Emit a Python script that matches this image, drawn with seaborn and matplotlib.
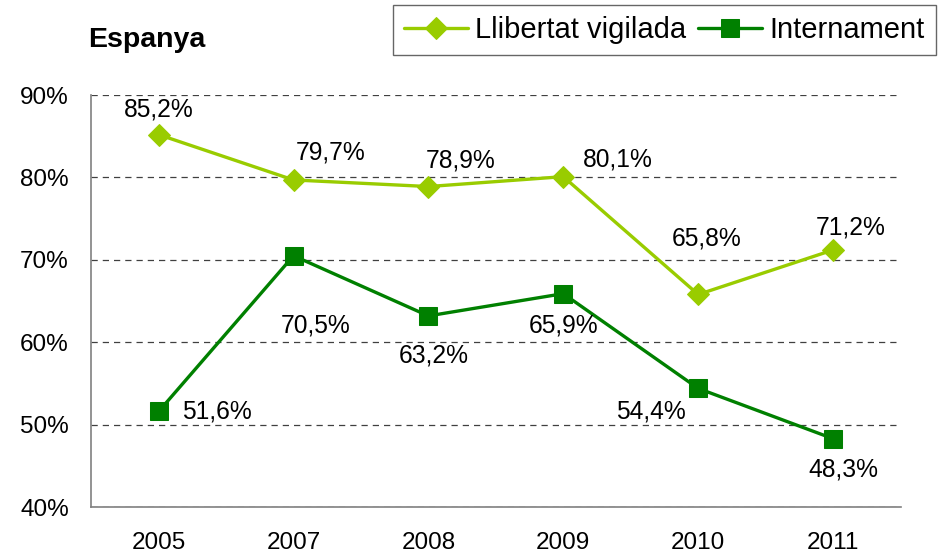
import numpy as np
import pandas as pd
import seaborn as sns
import matplotlib.pyplot as plt
from matplotlib.ticker import FixedLocator, FuncFormatter

# Data
years = ['2005', '2007', '2008', '2009', '2010', '2011']
llibertat = [85.2, 79.7, 78.9, 80.1, 65.8, 71.2]
internament = [51.6, 70.5, 63.2, 65.9, 54.4, 48.3]
series_names = ['Llibertat vigilada', 'Internament']

# label offsets in pixels (dx, dy with y up)
off_llib = [(0, 25), (37, 27), (32, 26), (55, 17), (8, 56), (18, 22)]
off_int = [(58, 0), (22, -70), (5, -40), (0, -32), (-47, -23), (10, -31)]

light = '#99CC00'
dark = '#008000'


def pct(v):
    return f'{v:.1f}%'.replace('.', ',')


def main():
    sns.set_style('white')
    plt.rcParams['font.family'] = ['Liberation Sans', 'DejaVu Sans']
    plt.rcParams['text.color'] = 'black'
    plt.rcParams['xtick.color'] = 'black'
    plt.rcParams['ytick.color'] = 'black'

    df = pd.DataFrame({'pos': np.arange(len(years)), 'year': years,
                       'llib': llibertat, 'int': internament})

    fig = plt.figure(figsize=(9.4, 5.56), dpi=100)
    ax = fig.add_axes([0.097, 0.088, 0.861, 0.741])

    sns.lineplot(data=df, x='pos', y='llib', color=light, lw=2.4, marker='D',
                 markersize=11.5, markeredgecolor=light, label=series_names[0], ax=ax)
    sns.lineplot(data=df, x='pos', y='int', color=dark, lw=2.4, marker='s',
                 markersize=13, markeredgecolor=dark, label=series_names[1], ax=ax)

    for i in range(len(years)):
        ax.annotate(pct(llibertat[i]), (i, llibertat[i]), xytext=off_llib[i],
                    textcoords='offset pixels', ha='center', va='center', fontsize=17.7)
        ax.annotate(pct(internament[i]), (i, internament[i]), xytext=off_int[i],
                    textcoords='offset pixels', ha='center', va='center', fontsize=17.7)

    ax.set_xlim(-0.5, len(years) - 0.5)
    ax.set_ylim(40, 90)
    ax.set_yticks(range(40, 91, 10))
    ax.yaxis.set_major_formatter(FuncFormatter(lambda v, p: f'{v:.0f}%'))
    ax.set_xticks(range(len(years)))
    ax.set_xticklabels(years)
    ax.xaxis.set_minor_locator(FixedLocator(np.arange(0.5, len(years) - 1, 1)))
    ax.tick_params(axis='x', which='major', length=0, labelsize=17.5, pad=18)
    ax.tick_params(axis='x', which='minor', length=6, width=1, color='#808080', direction='out')
    ax.tick_params(axis='y', length=6, width=1, color='#808080', labelcolor='black',
                   direction='out', labelsize=17.5, pad=10)
    ax.set_xlabel('')
    ax.set_ylabel('')

    ax.yaxis.grid(True, linestyle=(0, (5, 4)), color='#404040', lw=0.9)
    ax.set_axisbelow(True)
    for s in ['top', 'right']:
        ax.spines[s].set_visible(False)
    for s in ['left', 'bottom']:
        ax.spines[s].set_color('#808080')
        ax.spines[s].set_linewidth(1.2)

    fig.text(0.094, 0.928, 'Espanya', fontsize=20.5, fontweight='bold', ha='left', va='center')

    leg = ax.legend(loc='upper right', bbox_to_anchor=(0.9957, 0.991),
                    bbox_transform=fig.transFigure, borderaxespad=0, ncol=2, fontsize=21,
                    frameon=True, fancybox=False, handlelength=2.2,
                    columnspacing=0.4, handletextpad=0.25, borderpad=0.38)
    leg.get_frame().set_edgecolor('#404040')
    leg.get_frame().set_linewidth(1.0)

    fig.savefig('out.png', dpi=100)


if __name__ == '__main__':
    main()
